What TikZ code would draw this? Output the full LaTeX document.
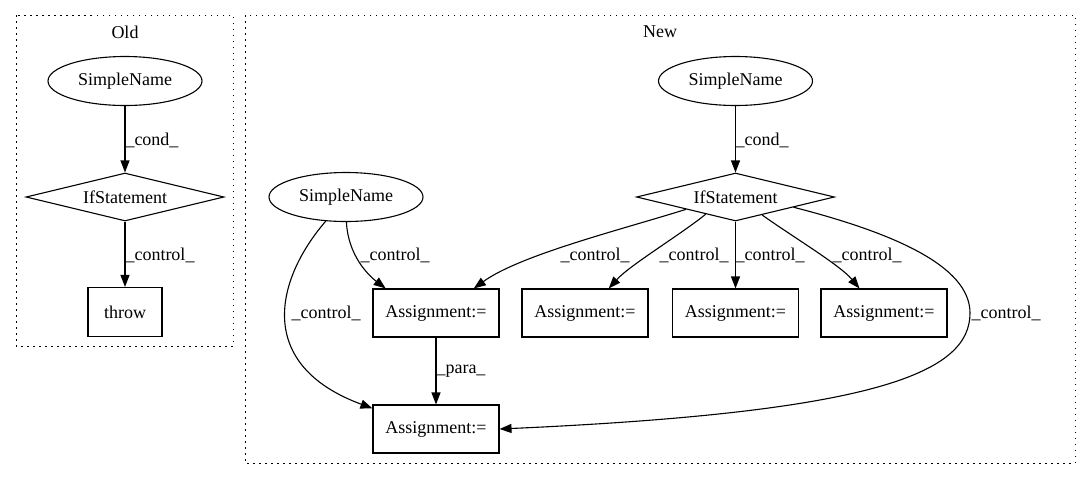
\documentclass[tikz,border=0pt]{standalone}
\usepackage{fontspec}
\setmainfont{Liberation Serif}
\usetikzlibrary{shapes.geometric,arrows.meta}
\begin{document}
\begin{tikzpicture}[x=1pt,y=-1pt,
  every node/.style={font=\fontsize{18}{21}\selectfont},
  cluster/.style={draw, line width=1pt, dash pattern=on 1.5pt off 4.5pt},
  ell/.style={draw, ellipse, line width=1.1pt, minimum width=154pt, minimum height=49pt, inner sep=0pt},
  dia/.style={draw, diamond, line width=1.1pt, aspect=4.17, minimum width=198pt, minimum height=48pt, inner sep=0pt},
  box/.style={draw, rectangle, line width=1.1pt, minimum width=126pt, minimum height=48pt, inner sep=0pt},
  edge/.style={draw, line width=1.1pt, -{Triangle[length=12pt,width=9pt]}},
  lbl/.style={inner sep=0pt}
]
\useasboundingbox (0,0) rectangle (1091,480);
% clusters
\draw[cluster] (16,15) rectangle (233,346);
\draw[cluster] (245,15) rectangle (1075,463);
\node[lbl] (oldt) at (125,32) {Old};
\node[lbl] (newt) at (660,32) {New};
% Old
\node[ell] (sn1) at (125,81) {SimpleName};
\node[dia] (if1) at (125,197) {IfStatement};
\node[box, minimum width=74pt, minimum height=49pt] (thr) at (125,312) {throw};
\draw[edge] (sn1) -- (if1);
\draw[edge] (if1) -- (thr);
\node[lbl] (l1) at (152,140) {\_cond\_};
\node[lbl] (l2) at (160,255) {\_control\_};
% New
\node[ell] (sn3) at (735.5,81) {SimpleName};
\node[dia] (if2) at (735.5,197) {IfStatement};
\node[ell] (sn2) at (346,197) {SimpleName};
\node[box] (a1) at (436,313) {Assignment:=};
\node[box] (a2) at (585,313) {Assignment:=};
\node[box] (a3) at (735.5,313) {Assignment:=};
\node[box] (a4) at (884,313) {Assignment:=};
\node[box] (a5) at (436,429) {Assignment:=};
\draw[edge] (sn3) -- (if2);
\draw[edge] (sn2.-89) .. controls (348,255) and (368,275) .. (a1.154);
\draw[edge] (sn2.230) .. controls (275,280) and (255,365) .. (a5.162);
\draw[edge] (if2.194.6) .. controls (620,230) and (520,255) .. (a1.33);
\draw[edge] (if2.210) .. controls (680,235) and (630,265) .. (a2.46);
\draw[edge] (if2) -- (a3);
\draw[edge] (if2.326.8) .. controls (790,235) and (840,265) .. (a4.135);
\draw[edge] (if2.350) .. controls (890,232) and (970,265) .. (970,313)
   .. controls (970,372) and (880,412) .. (a5.east);
\draw[edge] (a1) -- (a5);
\node[lbl] (l3) at (762,140) {\_cond\_};
\node[lbl] (l4) at (395,255) {\_control\_};
\node[lbl] (l5) at (326,313) {\_control\_};
\node[lbl] (l6) at (595,255) {\_control\_};
\node[lbl] (l7) at (694,255) {\_control\_};
\node[lbl] (l8) at (770,255) {\_control\_};
\node[lbl] (l9) at (867,255) {\_control\_};
\node[lbl] (l10) at (1006,313) {\_control\_};
\node[lbl] (l11) at (461,371) {\_para\_};
\end{tikzpicture}
\end{document}
